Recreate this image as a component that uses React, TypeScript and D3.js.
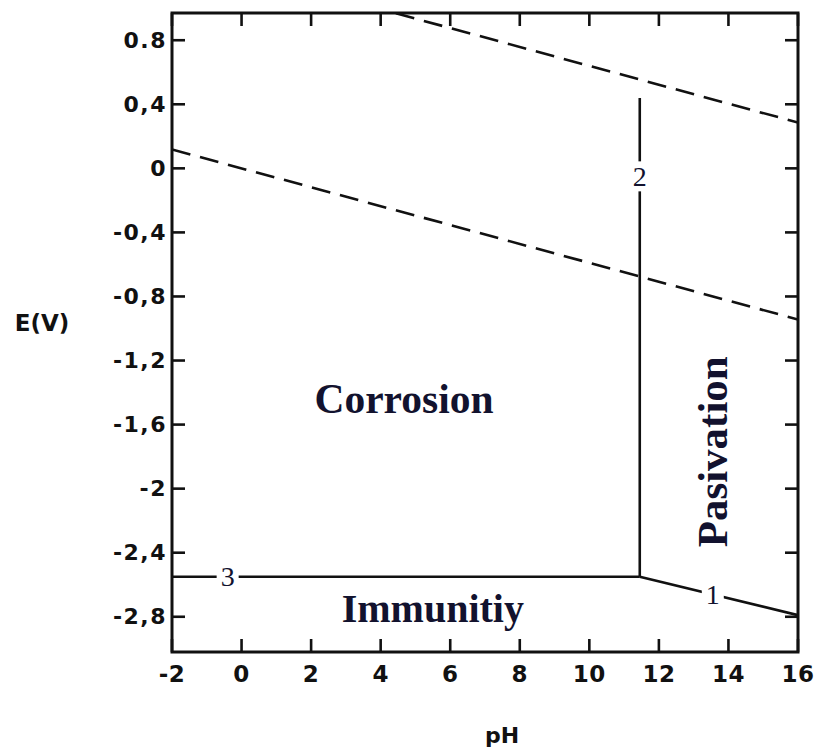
import React from "react";
import * as d3 from "d3";

const xTicks = [-2, 0, 2, 4, 6, 8, 10, 12, 14, 16];
const yTicks = [0.8, 0.4, 0, -0.4, -0.8, -1.2, -1.6, -2, -2.4, -2.8];
const yTickLabels = ["0.8", "0,4", "0", "-0,4", "-0,8", "-1,2", "-1,6", "-2", "-2,4", "-2,8"];

const waterLower = [{ pH: -2, E: 0.118 }, { pH: 16, E: -0.944 }];
const waterUpper = [{ pH: -2, E: 1.348 }, { pH: 16, E: 0.286 }];
const line1 = [{ pH: 11.45, E: -2.55 }, { pH: 16, E: -2.79 }];
const line2 = [{ pH: 11.45, E: 0.44 }, { pH: 11.45, E: -2.55 }];
const line3 = [{ pH: -2, E: -2.55 }, { pH: 11.45, E: -2.55 }];

const lineLabels = [
  { text: "1", pH: 13.55, E: -2.66 },
  { text: "2", pH: 11.45, E: -0.05 },
  { text: "3", pH: -0.4, E: -2.55 },
];

const regionLabels = [
  { text: "Corrosion", pH: 4.67, E: -1.528, rotate: 0, size: 41.5 },
  { text: "Immunitiy", pH: 5.5, E: -2.833, rotate: 0, size: 40 },
  { text: "Pasivation", pH: 13.96, E: -1.77, rotate: -90, size: 43 },
];

const W = 814;
const H = 756;
const L = 172, R = 798, T = 13, B = 652;

export default function App() {
  const x = d3.scaleLinear().domain([-2, 16]).range([L, R]);
  const y = d3.scaleLinear().domain([0.97, -3.02]).range([T, B]);
  const line = d3
    .line<{ pH: number; E: number }>()
    .x((d) => x(d.pH))
    .y((d) => y(d.E));
  const tickLen = 13;
  const ink = "#111";
  const navy = "#12122e";
  return (
    <svg width={W} height={H} style={{ position: "absolute", left: 0, top: 0, background: "#fff" }}>
      <defs>
        <clipPath id="plotclip">
          <rect x={L} y={T} width={R - L} height={B - T} />
        </clipPath>
      </defs>
      <rect x={0} y={0} width={W} height={H} fill="#fff" />
      <g clipPath="url(#plotclip)" fill="none" stroke={ink} strokeWidth={2.6}>
        <path d={line(waterLower) || ""} strokeDasharray="19,10" />
        <path d={line(waterUpper) || ""} strokeDasharray="19,10" />
        <path d={line(line1) || ""} />
        <path d={line(line2) || ""} />
        <path d={line(line3) || ""} />
      </g>
      {/* frame */}
      <rect x={L} y={T} width={R - L} height={B - T} fill="none" stroke={ink} strokeWidth={3} />
      {/* ticks */}
      <g stroke={ink} strokeWidth={2.6}>
        {xTicks.map((t) => (
          <g key={"xt" + t}>
            <line x1={x(t)} x2={x(t)} y1={B} y2={B - tickLen} />
            <line x1={x(t)} x2={x(t)} y1={T} y2={T + tickLen} />
          </g>
        ))}
        {yTicks.map((t) => (
          <g key={"yt" + t}>
            <line x1={L} x2={L + tickLen} y1={y(t)} y2={y(t)} />
            <line x1={R} x2={R - tickLen} y1={y(t)} y2={y(t)} />
          </g>
        ))}
      </g>
      {/* tick labels */}
      <g fontFamily="'DejaVu Sans', sans-serif" fontWeight="bold" fill={ink}>
        {yTicks.map((t, i) => (
          <text key={"yl" + t} x={L - 5} y={y(t)} textAnchor="end" dominantBaseline="central" fontSize={22} letterSpacing={1.5}>
            {yTickLabels[i]}
          </text>
        ))}
        {xTicks.map((t) => (
          <text key={"xl" + t} x={x(t)} y={B + 22} textAnchor="middle" dominantBaseline="central" fontSize={23} letterSpacing={0.5}>
            {String(t)}
          </text>
        ))}
      </g>
      {/* axis titles */}
      <text x={42} y={323} textAnchor="middle" dominantBaseline="central" fontFamily="'DejaVu Sans', sans-serif" fontWeight="bold" fontSize={23} fill={ink}>
        E(V)
      </text>
      <text x={502} y={735} textAnchor="middle" dominantBaseline="central" fontFamily="'DejaVu Sans', sans-serif" fontWeight="bold" fontSize={22} fill={ink}>
        pH
      </text>
      {/* line labels */}
      {lineLabels.map((l) => (
        <g key={"ll" + l.text}>
          <rect x={x(l.pH) - 11} y={y(l.E) - 15} width={22} height={30} fill="#fff" />
          <text x={x(l.pH)} y={y(l.E)} textAnchor="middle" dominantBaseline="central" fontFamily="'Liberation Serif', 'Times New Roman', serif" fontSize={28} fill={navy}>
            {l.text}
          </text>
        </g>
      ))}
      {/* region labels */}
      {regionLabels.map((r) => (
        <text
          key={r.text}
          transform={`translate(${x(r.pH)},${y(r.E)}) rotate(${r.rotate})`}
          textAnchor="middle"
          fontFamily="'Liberation Serif', 'Times New Roman', serif"
          fontWeight="bold"
          fontSize={r.size}
          fill={navy}
        >
          {r.text}
        </text>
      ))}
    </svg>
  );
}
